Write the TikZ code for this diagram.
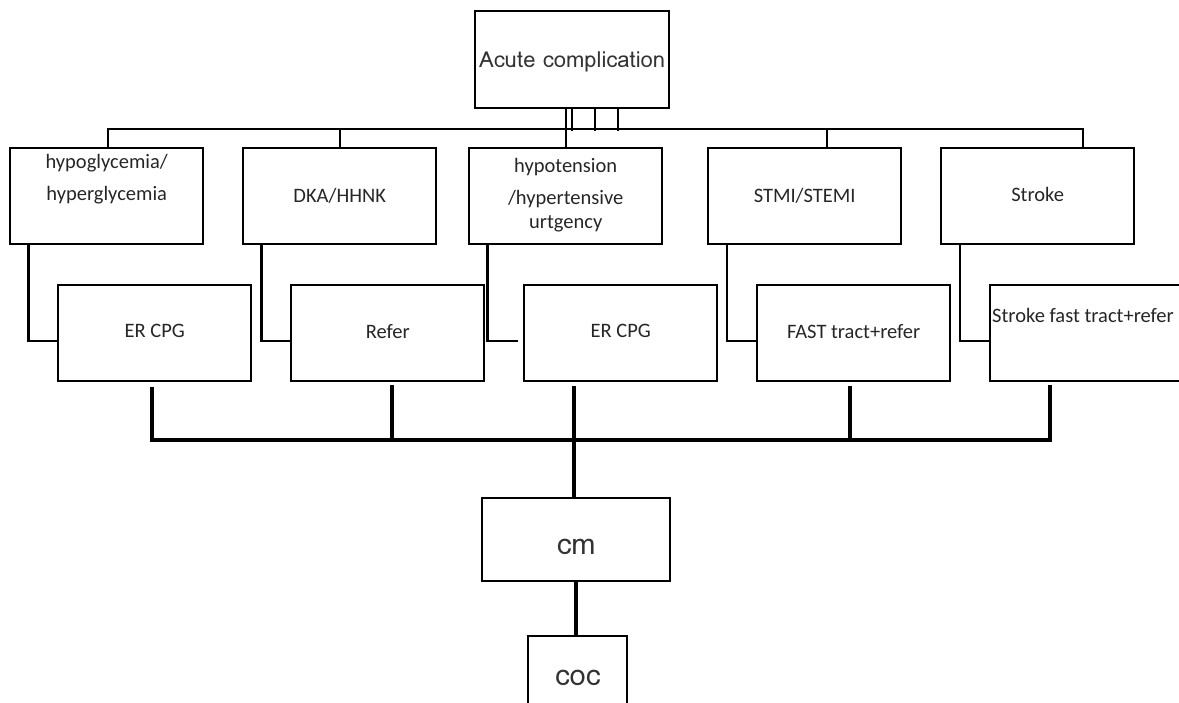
\documentclass[tikz,border=0pt]{standalone}
\usepackage{fontspec}
\setmainfont{Carlito}
\newfontfamily\lomafont{Loma}
\usetikzlibrary{calc}

\tikzset{
	box/.style={draw, line width=2.4pt, minimum width=193pt, minimum height=96pt, anchor=north west, inner sep=0pt},
	txt/.style={align=center, inner sep=0pt, text=black!85, font=\fontsize{20.5}{24}\selectfont},
	thin link/.style={line width=2.2pt},
	thick link/.style={line width=3.6pt}
}

\begin{document}
\begin{tikzpicture}[x=1pt, y=-1pt]
		\useasboundingbox (0,0) rectangle (1179,703);
		\clip (0,0) rectangle (1179,703);
		
		% top
		\node[box, minimum width=194pt, minimum height=97pt] (acute) at (474,10) {};
		\node[inner sep=0pt, text=black!80, font=\lomafont\fontsize{22}{24}\selectfont] (acutetxt) at ($(acute.center)+(0,2)$) {Acute complication};
		
		% conditions
		\foreach \name/\x in {hypo/9, dka/242, hten/468, stmi/707, strk/940}
		{
			\node[box] (\name) at (\x,147) {};
		}
		\node[txt] (hypotxt) at ($(hypo.north)+(0,32)$) {hypoglycemia/\\[8pt]hyperglycemia};
		\node[txt] (dkatxt) at (dka.center) {DKA/HHNK};
		\node[txt] (htentxt) at ($(hten.center)+(0,-1)$) {hypotension\\[8pt]/hypertensive\\urtgency};
		\node[txt] (stmitxt) at (stmi.center) {STMI/STEMI};
		\node[txt] (strktxt) at ($(strk.center)+(0,-2)$) {Stroke};
		
		% actions
		\foreach \name/\x in {ercpg/57, refer/290, ercpgb/523, fast/756, sfast/989}
		{
			\node[box] (\name) at (\x,284) {};
		}
		\node[txt] (ercpgtxt) at ($(ercpg.center)+(0,-2)$) {ER CPG};
		\node[txt] (refertxt) at ($(refer.center)+(0,-2)$) {Refer};
		\node[txt] (ercpgbtxt) at ($(ercpgb.center)+(0,-2)$) {ER CPG};
		\node[txt] (fasttxt) at ($(fast.center)+(0,-2)$) {FAST tract+refer};
		\node[txt, anchor=west] (sfasttxt) at ($(sfast.north west)+(3,31)$) {Stroke fast tract+refer};
		
		% bottom
		\node[box, minimum width=188pt, minimum height=83pt] (cm) at (481,497) {};
		\node[inner sep=0pt, text=black!80, font=\lomafont\fontsize{29}{32}\selectfont] (cmtxt) at ($(cm.center)+(0,7)$) {cm};
		\node[box, minimum width=99pt, minimum height=100pt] (coc) at (527,635) {};
		\node[inner sep=0pt, text=black!80, font=\lomafont\fontsize{29}{32}\selectfont] (coctxt) at ($(coc.north)+(0,43)$) {coc};
		
		% upper links
		\foreach \dx in {0, 23, 46}
			\draw[thin link] ([xshift=\dx pt]acute.south) -- ++(0,22);
		\draw[thin link] (acute.south -| hten.north) -- (hten.north);
		\draw[thin link] ([xshift=1.5pt]hypo.north) -- ++(0,-18) -| ([xshift=143pt]strk.north west);
		\draw[thin link] (dka.north) -- ++(0,-18);
		\draw[thin link] ([xshift=120pt]stmi.north west) -- ++(0,-18);
		
		\draw[thin link] ([xshift=19.5pt]hypo.south west) |- ([yshift=-8pt]ercpg.west);
		\draw[thin link] ([xshift=19.5pt]dka.south west) |- ([yshift=-8pt]refer.west);
		\draw[thin link] ([xshift=19.5pt]hten.south west) |- ([yshift=-8pt, xshift=-5pt]ercpgb.west);
		\draw[thin link] ([xshift=20pt]stmi.south west) |- ([yshift=-8pt]fast.west);
		\draw[thin link] ([xshift=20pt]strk.south west) |- ([yshift=-8pt]sfast.west);
		
		% lower links
		\coordinate (bot) at (0,440);
		\coordinate (d1) at ([xshift=95pt, yshift=-5pt]ercpg.south west);
		\coordinate (d2) at ([xshift=102pt, yshift=-3pt]refer.south west);
		\coordinate (d3) at ([xshift=51pt, yshift=-4pt]ercpgb.south west);
		\coordinate (d4) at ([xshift=94pt, yshift=-4pt]fast.south west);
		\coordinate (d5) at ([xshift=61pt, yshift=-3pt]sfast.south west);
		\draw[thick link] (d1) -- (d1 |- bot) -- (d5 |- bot) -- (d5);
		\draw[thick link] (d2) -- (d2 |- bot);
		\draw[thick link] (d4) -- (d4 |- bot);
		\draw[thick link] (d3) -- (d3 |- cm.north);
		\draw[thick link] (cm.south) -- (cm.south |- coc.north);
	\end{tikzpicture}
\end{document}
